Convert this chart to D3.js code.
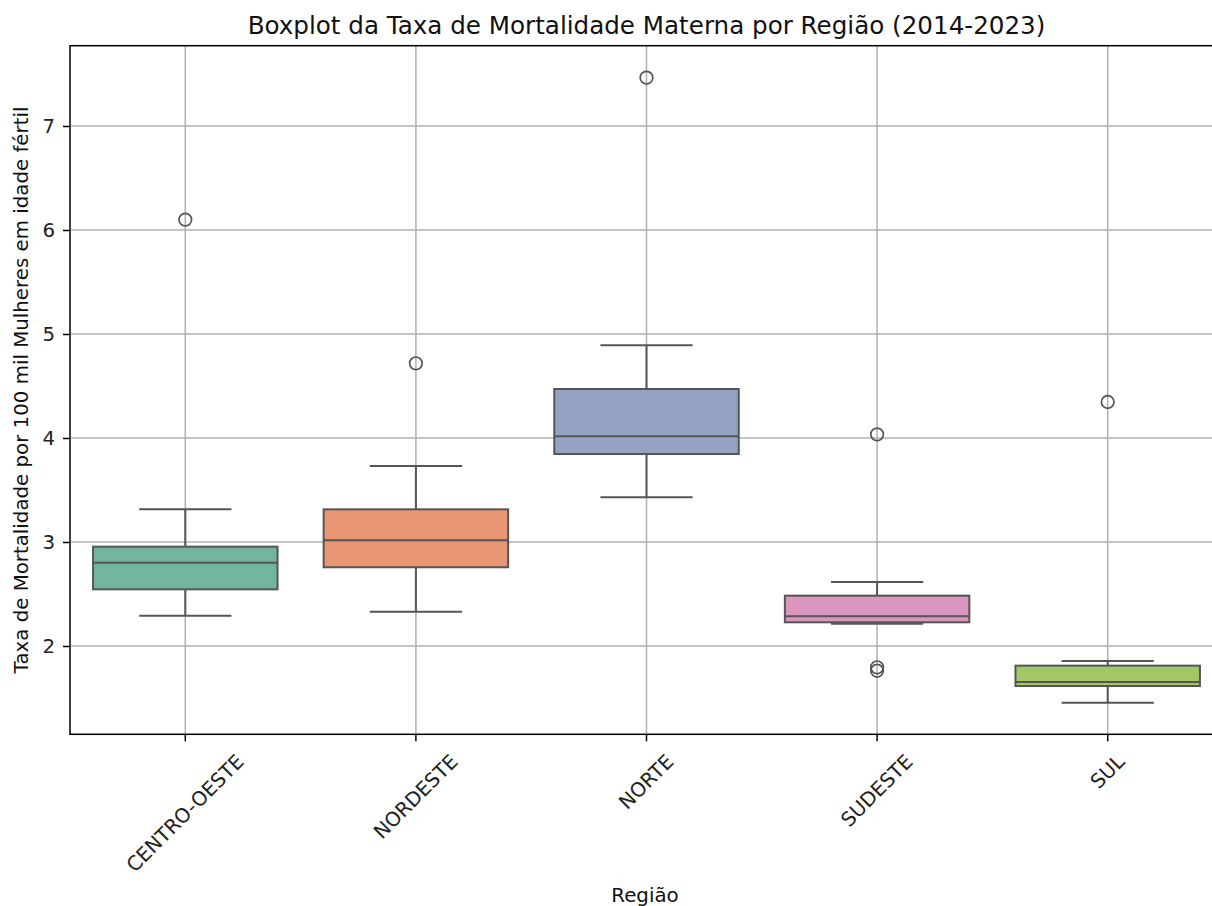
<!DOCTYPE html>
<html>
<head>
<meta charset="utf-8">
<script src="https://cdn.jsdelivr.net/npm/d3@7"></script>
<style>
  html, body { margin: 0; padding: 0; background: #fff; }
  svg { display: block; font-family: "DejaVu Sans", sans-serif; }
</style>
</head>
<body>
<div id="chart"></div>
<script>
// box statistics, one entry per region
const regioes = ["CENTRO-OESTE", "NORDESTE", "NORTE", "SUDESTE", "SUL"];
const bigodeInf = [2.29, 2.33, 3.43, 2.215, 1.455];
const q1 = [2.545, 2.757, 3.846, 2.228, 1.615];
const mediana = [2.80, 3.016, 4.016, 2.285, 1.654];
const q3 = [2.955, 3.314, 4.471, 2.484, 1.811];
const bigodeSup = [3.314, 3.731, 4.891, 2.615, 1.856];
const outliers = [[6.10], [4.718], [7.465], [4.035, 1.795, 1.762], [4.346]];
const yTicks = [2, 3, 4, 5, 6, 7];

const W = 1212, H = 906;
const PLOT = { LEFT: 70, RIGHT: 1223, TOP: 45.7, BOTTOM: 734.3 };
const palette = ["#66c2a5", "#fc8d62", "#8da0cb", "#e78ac3", "#a6d854"];
const LINE = "#555555";
const FS = 19.8;

const svg = d3.select("#chart").append("svg")
    .attr("width", W)
    .attr("height", H);

const x = d3.scaleBand()
    .domain(regioes)
    .range([PLOT.LEFT, PLOT.RIGHT])
    .padding(0);

const y = d3.scaleLinear()
    .domain([1.151, 7.772])
    .range([PLOT.BOTTOM, PLOT.TOP]);

// seaborn style desaturation (saturation=0.75)
function desat(c) {
    const h = d3.hsl(c);
    h.s *= 0.75;
    return h.formatHex();
}

// grid
const grid = svg.append("g");
grid.selectAll("line.gy")
    .data(yTicks)
    .enter().append("line")
    .attr("x1", PLOT.LEFT).attr("x2", PLOT.RIGHT)
    .attr("y1", d => y(d)).attr("y2", d => y(d))
    .attr("stroke", "#b0b0b0").attr("stroke-width", 1.5);
grid.selectAll("line.gx")
    .data(regioes)
    .enter().append("line")
    .attr("x1", d => x(d) + x.bandwidth() / 2).attr("x2", d => x(d) + x.bandwidth() / 2)
    .attr("y1", PLOT.TOP).attr("y2", PLOT.BOTTOM)
    .attr("stroke", "#b0b0b0").attr("stroke-width", 1.5);

// boxes
const boxW = x.bandwidth() * 0.8;
const capW = boxW * 0.5;
const rows = regioes.map((r, i) => ({
    r, i, lo: bigodeInf[i], q1: q1[i], med: mediana[i], q3: q3[i], hi: bigodeSup[i], out: outliers[i]
}));

const g = svg.append("g");
const box = g.selectAll("g.box")
    .data(rows)
    .enter().append("g")
    .attr("transform", d => `translate(${x(d.r) + x.bandwidth() / 2},0)`);

// whiskers
box.append("line")
    .attr("x1", 0).attr("x2", 0)
    .attr("y1", d => y(d.q3)).attr("y2", d => y(d.hi))
    .attr("stroke", LINE).attr("stroke-width", 2);
box.append("line")
    .attr("x1", 0).attr("x2", 0)
    .attr("y1", d => y(d.q1)).attr("y2", d => y(d.lo))
    .attr("stroke", LINE).attr("stroke-width", 2);
box.append("line")
    .attr("x1", -capW / 2).attr("x2", capW / 2)
    .attr("y1", d => y(d.hi)).attr("y2", d => y(d.hi))
    .attr("stroke", LINE).attr("stroke-width", 2);
box.append("line")
    .attr("x1", -capW / 2).attr("x2", capW / 2)
    .attr("y1", d => y(d.lo)).attr("y2", d => y(d.lo))
    .attr("stroke", LINE).attr("stroke-width", 2);

box.append("rect")
    .attr("x", -boxW / 2)
    .attr("width", boxW)
    .attr("y", d => y(d.q3))
    .attr("height", d => y(d.q1) - y(d.q3))
    .attr("fill", d => desat(palette[d.i]))
    .attr("stroke", LINE).attr("stroke-width", 2);

box.append("line")
    .attr("x1", -boxW / 2).attr("x2", boxW / 2)
    .attr("y1", d => y(d.med)).attr("y2", d => y(d.med))
    .attr("stroke", LINE).attr("stroke-width", 2);

box.selectAll("circle")
    .data(d => d.out)
    .enter().append("circle")
    .attr("cx", 0)
    .attr("cy", d => y(d))
    .attr("r", 6.3)
    .attr("fill", "none")
    .attr("stroke", LINE).attr("stroke-width", 1.7);

// axes
const yAxis = svg.append("g")
    .attr("transform", `translate(${PLOT.LEFT},0)`)
    .call(d3.axisLeft(y).tickValues(yTicks).tickSize(7).tickPadding(8).tickFormat(d3.format("d")));
yAxis.select(".domain").remove();
yAxis.selectAll("line").attr("stroke", "#000").attr("stroke-width", 1.5);
yAxis.selectAll("text").attr("font-size", FS).attr("fill", "#222")
    .attr("font-family", "DejaVu Sans");

const xAxis = svg.append("g")
    .attr("transform", `translate(0,${PLOT.BOTTOM})`)
    .call(d3.axisBottom(x).tickSize(7).tickFormat(""));
xAxis.select(".domain").remove();
xAxis.selectAll("line").attr("stroke", "#000").attr("stroke-width", 1.5);

// rotated tick labels, centred under the tick like matplotlib rotation=45
const labTop = PLOT.BOTTOM + 16;
const fontH = FS * 1.15;
regioes.forEach(r => {
    const t = svg.append("text")
        .attr("font-size", FS)
        .attr("fill", "#222")
        .attr("text-anchor", "middle")
        .attr("dominant-baseline", "central")
        .text(r);
    const len = t.node().getComputedTextLength();
    const half = (len + fontH) * Math.SQRT1_2 / 2;
    const cx = x(r) + x.bandwidth() / 2;
    const cy = labTop + half;
    t.attr("transform", `translate(${cx},${cy}) rotate(-45)`);
});

// spines
svg.append("rect")
    .attr("x", PLOT.LEFT).attr("y", PLOT.TOP)
    .attr("width", PLOT.RIGHT - PLOT.LEFT)
    .attr("height", PLOT.BOTTOM - PLOT.TOP)
    .attr("fill", "none")
    .attr("stroke", "#000").attr("stroke-width", 1.5);

// titles
svg.append("text")
    .attr("x", (PLOT.LEFT + PLOT.RIGHT) / 2)
    .attr("y", 34)
    .attr("text-anchor", "middle")
    .attr("font-size", 24.6)
    .attr("fill", "#111")
    .text("Boxplot da Taxa de Mortalidade Materna por Região (2014-2023)");

svg.append("text")
    .attr("x", 645)
    .attr("y", 902)
    .attr("text-anchor", "middle")
    .attr("font-size", FS)
    .attr("fill", "#111")
    .text("Região");

svg.append("text")
    .attr("transform", `translate(28,${(PLOT.TOP + PLOT.BOTTOM) / 2}) rotate(-90)`)
    .attr("text-anchor", "middle")
    .attr("font-size", FS)
    .attr("fill", "#111")
    .text("Taxa de Mortalidade por 100 mil Mulheres em idade fértil");
</script>
</body>
</html>
